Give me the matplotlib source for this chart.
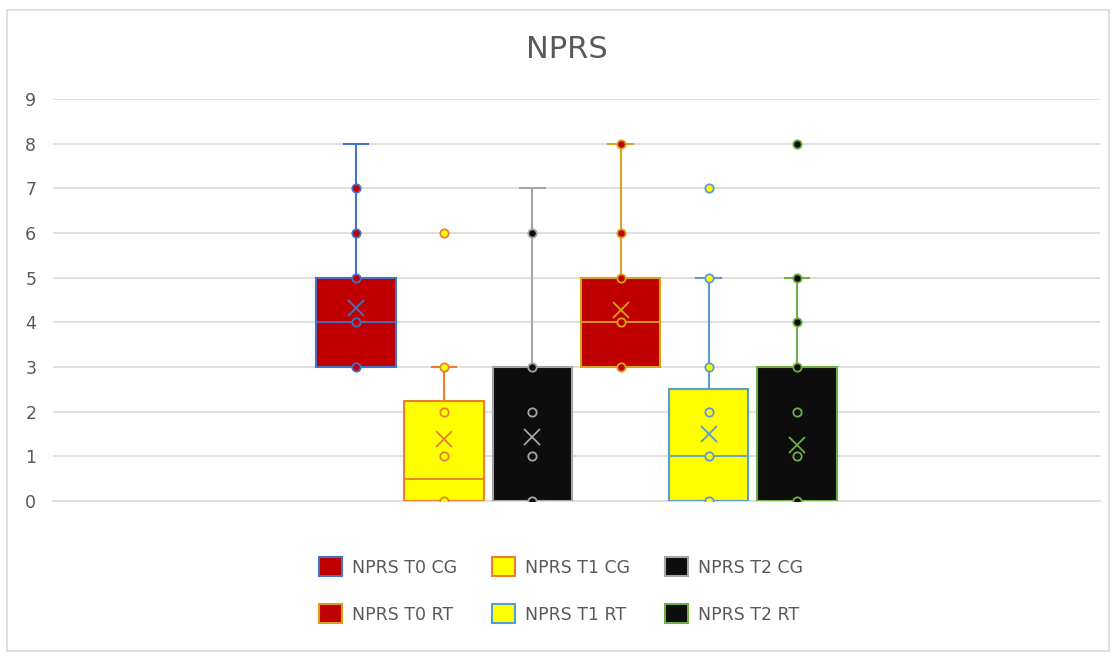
import matplotlib.pyplot as plt
from matplotlib.patches import Patch, Rectangle

# series, in drawing order
labels = ["NPRS T0 CG", "NPRS T1 CG", "NPRS T2 CG", "NPRS T0 RT", "NPRS T1 RT", "NPRS T2 RT"]
fills = ["#C00000", "#FFFF00", "#0D0D0D", "#C00000", "#FFFF00", "#0D0D0D"]
edges = ["#4472C4", "#ED7D31", "#A5A5A5", "#D9A21B", "#5B9BD5", "#70AD47"]

# box statistics
whislo = [3, 0, 0, 3, 0, 0]
q1 = [3, 0, 0, 3, 0, 0]
med = [4, 0.5, 0, 4, 1, 0]
q3 = [5, 2.25, 3, 5, 2.5, 3]
whishi = [8, 3, 7, 8, 5, 5]
means = [4.33, 1.38, 1.43, 4.27, 1.5, 1.25]
outliers = [[], [6], [], [], [7], [8]]
inner_points = [
    [3, 4, 5, 6, 7],
    [0, 1, 2, 3],
    [0, 1, 2, 3, 6],
    [3, 4, 5, 6, 8],
    [0, 1, 2, 3, 5],
    [0, 1, 2, 3, 4, 5],
]

fig = plt.figure(figsize=(11.16, 6.56), dpi=100)
ax = fig.add_axes([0.0475, 0.2363, 0.938, 0.6127])

text_col = "#595959"
grid_col = "#D9D9D9"

for i in range(len(labels)):
    stats = [dict(whislo=whislo[i], q1=q1[i], med=med[i], q3=q3[i],
                  whishi=whishi[i], mean=means[i], fliers=outliers[i])]
    ec = edges[i]
    ax.bxp(
        stats, positions=[i + 1], widths=0.9, patch_artist=True,
        showmeans=True, showfliers=True,
        boxprops=dict(facecolor=fills[i], edgecolor=ec, linewidth=1.5),
        medianprops=dict(color=ec, linewidth=1.3),
        whiskerprops=dict(color=ec, linewidth=1.5),
        capprops=dict(color=ec, linewidth=1.5),
        capwidths=0.28,
        meanprops=dict(marker="x", markeredgecolor=ec, markersize=12,
                       markeredgewidth=1.3),
        flierprops=dict(marker="o", markerfacecolor=fills[i],
                        markeredgecolor=ec, markersize=6, markeredgewidth=1.3),
        zorder=3,
    )
    ax.plot([i + 1] * len(inner_points[i]), inner_points[i], "o", ls="none",
            markerfacecolor=fills[i], markeredgecolor=ec, markersize=6,
            markeredgewidth=1.3, zorder=5)

ax.set_xlim(-2.435, 9.435)
ax.set_ylim(0, 9)
ax.set_yticks(range(10))
ax.set_xticks([])
ax.tick_params(axis="y", length=0, labelsize=12.5, labelcolor=text_col, pad=12)
ax.grid(axis="y", color=grid_col, linewidth=1.2, zorder=0)
ax.set_axisbelow(True)
for side in ["top", "right", "left"]:
    ax.spines[side].set_visible(False)
ax.spines["bottom"].set_color(grid_col)
ax.spines["bottom"].set_linewidth(1.2)

fig.text(0.508, 0.925, "NPRS", ha="center", va="center", fontsize=22, color=text_col)

# legend is filled column by column
order = [0, 3, 1, 4, 2, 5]
handles = [Patch(facecolor=fills[k], edgecolor=edges[k], linewidth=1.5, label=labels[k])
           for k in order]
fig.legend(handles=handles, ncol=3, loc="center", bbox_to_anchor=(0.503, 0.1), frameon=False,
           fontsize=12.5, labelcolor=text_col, handlelength=1.3, handleheight=1.3,
           columnspacing=2.0, labelspacing=1.6, handletextpad=0.6)

fig.patches.append(Rectangle((0.006, 0.008), 0.988, 0.976, transform=fig.transFigure,
                             fill=False, edgecolor="#D9D9D9", linewidth=1.2))

fig.savefig("out.png", dpi=100)
